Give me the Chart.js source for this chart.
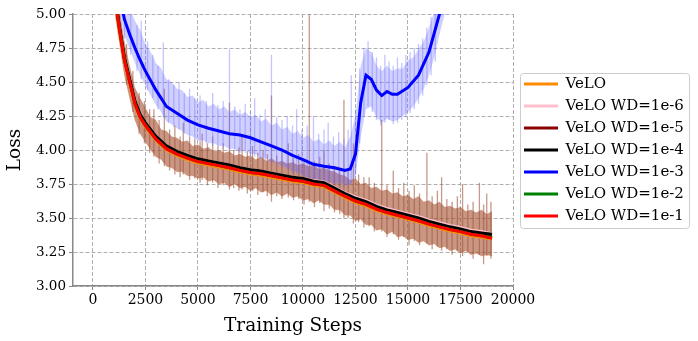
<!DOCTYPE html>
<html>
<head>
<meta charset="utf-8">
<script src="https://cdn.jsdelivr.net/npm/chart.js@4"></script>
<style>
  html, body { margin: 0; padding: 0; background: #fff; }
  #wrap { width: 698px; height: 341px; }
</style>
</head>
<body>
<div id="wrap"><canvas id="lossChart" width="698" height="341"></canvas></div>
<script>
// smoothed curves (training steps / loss)
const steps = [1000, 1250, 1500, 1750, 2000, 2250, 2500, 3000, 3500, 4000, 4500, 5000, 5500, 6000, 6500, 7000, 7500, 8000, 8500, 9000, 9500, 10000, 10500, 11000, 11500, 12000, 12500, 13000, 13500, 14000, 14500, 15000, 15500, 16000, 16500, 17000, 17500, 18000, 18500, 19000];
const veloLoss   = [5.17, 4.89, 4.65, 4.49, 4.33, 4.23, 4.17, 4.07, 4.00, 3.96, 3.93, 3.905, 3.89, 3.875, 3.86, 3.84, 3.825, 3.815, 3.80, 3.785, 3.77, 3.76, 3.74, 3.73, 3.69, 3.65, 3.615, 3.59, 3.555, 3.53, 3.51, 3.49, 3.47, 3.445, 3.425, 3.405, 3.39, 3.37, 3.36, 3.345];
const wd1e6Loss  = [5.20, 4.92, 4.68, 4.52, 4.36, 4.26, 4.20, 4.10, 4.03, 3.99, 3.96, 3.935, 3.92, 3.905, 3.89, 3.87, 3.855, 3.845, 3.83, 3.815, 3.80, 3.79, 3.775, 3.765, 3.725, 3.685, 3.655, 3.63, 3.595, 3.57, 3.55, 3.53, 3.51, 3.485, 3.465, 3.445, 3.43, 3.41, 3.40, 3.385];
const wd1e5Loss  = [5.19, 4.91, 4.67, 4.51, 4.35, 4.25, 4.19, 4.09, 4.02, 3.98, 3.95, 3.92, 3.905, 3.89, 3.875, 3.855, 3.84, 3.83, 3.815, 3.80, 3.785, 3.775, 3.755, 3.745, 3.705, 3.665, 3.63, 3.605, 3.57, 3.545, 3.525, 3.505, 3.485, 3.46, 3.44, 3.42, 3.405, 3.385, 3.375, 3.36];
const wd1e4Loss  = [5.20, 4.92, 4.68, 4.52, 4.36, 4.26, 4.20, 4.10, 4.03, 3.99, 3.96, 3.935, 3.92, 3.905, 3.89, 3.87, 3.855, 3.845, 3.83, 3.815, 3.80, 3.79, 3.77, 3.76, 3.72, 3.68, 3.645, 3.62, 3.585, 3.56, 3.54, 3.52, 3.50, 3.475, 3.455, 3.435, 3.42, 3.40, 3.39, 3.38];
const wd1e2Loss  = [5.18, 4.90, 4.66, 4.50, 4.34, 4.24, 4.18, 4.08, 4.01, 3.97, 3.94, 3.915, 3.90, 3.885, 3.87, 3.85, 3.835, 3.825, 3.81, 3.795, 3.78, 3.77, 3.75, 3.74, 3.70, 3.66, 3.625, 3.60, 3.565, 3.54, 3.52, 3.50, 3.48, 3.455, 3.435, 3.415, 3.40, 3.38, 3.37, 3.355];
const wd1e1Loss  = [5.18, 4.90, 4.66, 4.50, 4.34, 4.24, 4.18, 4.08, 4.01, 3.97, 3.94, 3.915, 3.90, 3.885, 3.87, 3.85, 3.835, 3.825, 3.81, 3.795, 3.78, 3.77, 3.75, 3.74, 3.70, 3.66, 3.625, 3.60, 3.565, 3.54, 3.52, 3.50, 3.48, 3.455, 3.435, 3.415, 3.40, 3.38, 3.37, 3.35];

const blueSteps = [1000, 1250, 1500, 1750, 2000, 2250, 2500, 3000, 3500, 4000, 4500, 5000, 5500, 6000, 6500, 7000, 7500, 8000, 8500, 9000, 9500, 10000, 10500, 11000, 11500, 12000, 12250, 12500, 12750, 13000, 13250, 13500, 13750, 14000, 14250, 14500, 15000, 15500, 16000, 16500, 17000];
const wd1e3Loss = [5.50, 5.15, 4.96, 4.85, 4.75, 4.66, 4.58, 4.44, 4.32, 4.27, 4.22, 4.185, 4.16, 4.14, 4.12, 4.11, 4.09, 4.06, 4.03, 4.00, 3.96, 3.93, 3.895, 3.88, 3.87, 3.85, 3.86, 3.97, 4.35, 4.55, 4.52, 4.44, 4.40, 4.43, 4.41, 4.41, 4.46, 4.55, 4.72, 5.00, 5.30];

// raw (unsmoothed) spread, dense part
const bandSteps = [1000, 1250, 1500, 1750, 2000, 2250, 2500, 2750, 3000, 3250, 3500, 3750, 4000, 4250, 4500, 4750, 5000, 5250, 5500, 5750, 6000, 6250, 6500, 6750, 7000, 7250, 7500, 7750, 8000, 8250, 8500, 8750, 9000, 9250, 9500, 9750, 10000, 10250, 10500, 10750, 11000, 11250, 11500, 11750, 12000, 12250, 12500, 12750, 13000, 13250, 13500, 13750, 14000, 14250, 14500, 14750, 15000, 15250, 15500, 15750, 16000, 16250, 16500, 16750, 17000, 17250, 17500, 17750, 18000, 18250, 18500, 18750, 19000];
const rawUpper = [5.30, 5.05, 4.80, 4.62, 4.46, 4.38, 4.31, 4.24, 4.22, 4.15, 4.14, 4.10, 4.09, 4.06, 4.07, 4.03, 4.04, 4.01, 4.02, 3.99, 4.00, 3.98, 3.99, 3.96, 3.97, 3.95, 3.96, 3.93, 3.95, 3.92, 3.94, 3.91, 3.92, 3.90, 3.91, 3.89, 3.90, 3.88, 3.89, 3.86, 3.87, 3.85, 3.84, 3.82, 3.81, 3.78, 3.79, 3.75, 3.76, 3.72, 3.73, 3.70, 3.71, 3.68, 3.69, 3.66, 3.67, 3.64, 3.66, 3.62, 3.63, 3.60, 3.62, 3.58, 3.59, 3.57, 3.58, 3.55, 3.56, 3.54, 3.56, 3.53, 3.55];
const rawLower = [5.05, 4.80, 4.55, 4.38, 4.22, 4.12, 4.06, 4.00, 3.95, 3.93, 3.88, 3.87, 3.84, 3.84, 3.81, 3.81, 3.79, 3.80, 3.77, 3.78, 3.75, 3.76, 3.73, 3.75, 3.72, 3.73, 3.70, 3.72, 3.69, 3.70, 3.67, 3.69, 3.66, 3.68, 3.65, 3.66, 3.63, 3.64, 3.61, 3.63, 3.60, 3.60, 3.56, 3.56, 3.52, 3.52, 3.48, 3.49, 3.45, 3.45, 3.41, 3.42, 3.38, 3.40, 3.36, 3.37, 3.34, 3.35, 3.32, 3.33, 3.30, 3.31, 3.28, 3.29, 3.26, 3.27, 3.24, 3.26, 3.23, 3.24, 3.22, 3.23, 3.22];

const blueBandSteps = [1250, 1500, 1750, 2000, 2250, 2500, 2750, 3000, 3250, 3500, 3750, 4000, 4250, 4500, 4750, 5000, 5250, 5500, 5750, 6000, 6250, 6500, 6750, 7000, 7250, 7500, 7750, 8000, 8250, 8500, 8750, 9000, 9250, 9500, 9750, 10000, 10250, 10500, 10750, 11000, 11250, 11500, 11750, 12000, 12250, 12500, 12750, 13000, 13250, 13500, 13750, 14000, 14250, 14500, 14750, 15000, 15250, 15500, 15750, 16000, 16250, 16500, 16750, 17000];
const blueUpper = [5.35, 5.15, 5.05, 4.95, 4.88, 4.78, 4.72, 4.64, 4.60, 4.52, 4.50, 4.45, 4.44, 4.39, 4.40, 4.35, 4.37, 4.32, 4.34, 4.30, 4.32, 4.28, 4.30, 4.26, 4.28, 4.24, 4.26, 4.21, 4.23, 4.18, 4.20, 4.15, 4.17, 4.12, 4.14, 4.09, 4.11, 4.06, 4.08, 4.04, 4.07, 4.03, 4.06, 4.02, 4.10, 4.25, 4.62, 4.75, 4.72, 4.62, 4.58, 4.62, 4.58, 4.60, 4.60, 4.66, 4.68, 4.74, 4.80, 4.90, 5.02, 5.15, 5.30, 5.45];
const blueLower = [5.02, 4.84, 4.74, 4.64, 4.55, 4.47, 4.40, 4.33, 4.28, 4.21, 4.19, 4.16, 4.14, 4.11, 4.10, 4.07, 4.07, 4.05, 4.05, 4.03, 4.03, 4.01, 4.01, 3.99, 4.00, 3.97, 3.97, 3.94, 3.94, 3.91, 3.91, 3.88, 3.87, 3.84, 3.84, 3.81, 3.80, 3.78, 3.78, 3.76, 3.77, 3.75, 3.76, 3.74, 3.75, 3.80, 4.10, 4.30, 4.32, 4.24, 4.20, 4.23, 4.21, 4.22, 4.25, 4.28, 4.32, 4.38, 4.45, 4.55, 4.68, 4.85, 5.00, 5.15];

// single noisy steps in the raw logs (low / high end of each excursion)
const spikeSteps = [1600, 1900, 2200, 2450, 2700, 2900, 3150, 3400, 3650, 3900, 4150, 4300, 4600, 4850, 5100, 5200, 5450, 5700, 5950, 6200, 6500, 6700, 6950, 7100, 7350, 7600, 7850, 8100, 8300, 8500, 8750, 9000, 9300, 9550, 9800, 10050, 10300, 10550, 10800, 11000, 11250, 11500, 11750, 11950, 12150, 12400, 12650, 12900, 13150, 13400, 13750, 14000, 14300, 14550, 14800, 15050, 15300, 15550, 15900, 16150, 16400, 16600, 16850, 17100, 17350, 17600, 17850, 18100, 18400, 18600, 18750, 18950];
const spikeHigh = [4.78, 4.58, 4.42, 4.36, 4.30, 4.30, 4.22, 4.45, 4.15, 4.18, 4.10, 4.20, 4.10, 4.08, 4.06, 4.12, 4.05, 4.10, 4.03, 4.05, 4.35, 4.00, 4.02, 4.10, 3.99, 4.03, 3.98, 4.00, 3.97, 4.40, 3.96, 3.99, 4.05, 3.94, 3.97, 3.93, 5.00, 3.92, 3.95, 4.00, 3.90, 3.88, 3.87, 4.37, 3.84, 4.05, 3.82, 3.80, 3.80, 3.76, 4.22, 3.74, 3.85, 3.72, 3.76, 3.70, 3.74, 3.68, 3.98, 3.66, 3.70, 3.80, 3.64, 3.62, 3.66, 3.75, 3.60, 3.62, 3.76, 3.60, 3.68, 3.62];
const spikeLow  = [4.48, 4.28, 4.12, 4.05, 3.98, 3.95, 3.90, 3.88, 3.85, 3.82, 3.80, 3.82, 3.78, 3.79, 3.76, 3.78, 3.74, 3.76, 3.72, 3.74, 3.71, 3.72, 3.70, 3.71, 3.68, 3.70, 3.67, 3.69, 3.66, 3.62, 3.66, 3.64, 3.65, 3.63, 3.64, 3.60, 3.62, 3.58, 3.61, 3.55, 3.57, 3.54, 3.53, 3.50, 3.50, 3.46, 3.47, 3.43, 3.44, 3.40, 3.40, 3.36, 3.38, 3.34, 3.36, 3.30, 3.33, 3.30, 3.31, 3.27, 3.29, 3.26, 3.27, 3.23, 3.26, 3.22, 3.25, 3.20, 3.23, 3.16, 3.22, 3.20];

const blueSpikeSteps = [1500, 1800, 2100, 2300, 2600, 2850, 3100, 3350, 3600, 3850, 4100, 4350, 4600, 4850, 5100, 5400, 5700, 5950, 6200, 6500, 6750, 7000, 7250, 7500, 7700, 7950, 8200, 8500, 8750, 9000, 9250, 9500, 9700, 9950, 10200, 10500, 10750, 11000, 11200, 11450, 11700, 11950, 12150, 12300, 12500, 12700, 12900, 13100, 13300, 13500, 13700, 13900, 14100, 14300, 14500, 14700, 14900, 15100, 15300, 15500, 15700, 15900, 16100, 16300];
const blueSpikeHigh = [5.20, 5.05, 4.92, 4.95, 4.80, 4.70, 4.62, 4.79, 4.52, 4.48, 4.50, 4.42, 4.45, 4.38, 4.40, 4.36, 4.42, 4.33, 4.36, 4.74, 4.32, 4.30, 4.34, 4.28, 4.38, 4.26, 4.30, 4.70, 4.24, 4.22, 4.25, 4.18, 4.30, 4.15, 4.18, 4.25, 4.12, 4.15, 4.20, 4.10, 4.13, 4.08, 4.15, 4.55, 4.30, 4.60, 4.75, 4.80, 4.72, 4.68, 4.62, 4.70, 4.65, 4.62, 4.68, 4.64, 4.70, 4.72, 4.75, 4.78, 4.82, 4.90, 4.98, 5.05];
const blueSpikeLow  = [4.82, 4.70, 4.58, 4.52, 4.44, 4.38, 4.30, 4.24, 4.20, 4.17, 4.15, 4.12, 4.10, 4.08, 4.06, 4.05, 4.03, 4.03, 4.01, 4.00, 3.99, 3.98, 3.98, 3.96, 3.95, 3.94, 3.92, 3.90, 3.89, 3.87, 3.86, 3.83, 3.82, 3.81, 3.79, 3.77, 3.76, 3.75, 3.76, 3.74, 3.74, 3.72, 3.73, 3.75, 3.82, 4.05, 4.25, 4.32, 4.28, 4.22, 4.18, 4.20, 4.22, 4.19, 4.20, 4.22, 4.24, 4.27, 4.30, 4.34, 4.40, 4.48, 4.55, 4.65];

const xTicks = [0, 2500, 5000, 7500, 10000, 12500, 15000, 17500, 20000];

const serif = "'DejaVu Serif', serif";

function pts(xs, ys) {
    return xs.map((x, i) => ({ x: x, y: ys[i] }));
}
// vertical segments, separated by gaps
function segPts(xs, lows, highs) {
    const out = [];
    xs.forEach((x, i) => {
        out.push({ x: x, y: lows[i] });
        out.push({ x: x, y: highs[i] });
        out.push({ x: x, y: null });
    });
    return out;
}

function mainLine(label, data, color, order) {
    return {
        label: label,
        data: data,
        borderColor: color,
        backgroundColor: color,
        borderWidth: 3,
        pointRadius: 0,
        fill: false,
        order: order,
    };
}
function extra(data, opts) {
    return Object.assign({
        label: '',
        hideInLegend: true,
        data: data,
        pointRadius: 0,
        borderWidth: 0,
        fill: false,
        spanGaps: false,
    }, opts);
}

const datasets = [
    mainLine('VeLO', pts(steps, veloLoss), '#ff8c00', 7),
    mainLine('VeLO WD=1e-6', pts(steps, wd1e6Loss), '#ffc0cb', 6),
    mainLine('VeLO WD=1e-5', pts(steps, wd1e5Loss), '#8b0000', 5),
    mainLine('VeLO WD=1e-4', pts(steps, wd1e4Loss), '#000000', 4),
    mainLine('VeLO WD=1e-3', pts(blueSteps, wd1e3Loss), '#0000ff', 3),
    mainLine('VeLO WD=1e-2', pts(steps, wd1e2Loss), '#008000', 2),
    mainLine('VeLO WD=1e-1', pts(steps, wd1e1Loss), '#ff0000', 1),
    // index 7: raw band lower, 8: raw band upper
    extra(pts(bandSteps, rawLower), { order: 30, borderWidth: 1, borderColor: 'rgba(240, 150, 90, 0.35)' }),
    extra(pts(bandSteps, rawUpper), { order: 29, fill: { target: 7 }, backgroundColor: 'rgba(163, 80, 47, 0.6)' }),
    extra(segPts(spikeSteps, spikeLow, spikeHigh), { order: 28, borderWidth: 1.3, borderColor: 'rgba(160, 85, 60, 0.6)' }),
    // index 10: blue band lower, 11: blue band upper
    extra(pts(blueBandSteps, blueLower), { order: 27 }),
    extra(pts(blueBandSteps, blueUpper), { order: 26, fill: { target: 10 }, backgroundColor: 'rgba(100, 100, 255, 0.3)' }),
    extra(segPts(blueSpikeSteps, blueSpikeLow, blueSpikeHigh), { order: 25, borderWidth: 1.3, borderColor: 'rgba(110, 110, 255, 0.4)' }),
];

// frame around the legend, like matplotlib's
const legendFrame = {
    id: 'legendFrame',
    afterLayout(chart) {
        // small gap between plot and legend
        chart.legend.left += 4;
        chart.legend.right += 4;
    },
    afterDraw(chart) {
        const boxes = chart.legend && chart.legend.legendHitBoxes;
        if (!boxes || !boxes.length) return;
        let l = Infinity, t = Infinity, r = -Infinity, b = -Infinity;
        boxes.forEach(h => {
            l = Math.min(l, h.left); t = Math.min(t, h.top);
            r = Math.max(r, h.left + h.width); b = Math.max(b, h.top + h.height);
        });
        const ctx = chart.ctx;
        ctx.save();
        ctx.strokeStyle = '#cccccc';
        ctx.lineWidth = 1;
        ctx.beginPath();
        ctx.roundRect(Math.round(l - 4) + 0.5, Math.round(t - 4) + 0.5, Math.round(r - l + 9), Math.round(b - t + 8), 3);
        ctx.stroke();
        ctx.restore();
    }
};

new Chart(document.getElementById('lossChart'), {
    type: 'line',
    data: { datasets: datasets },
    options: {
        responsive: false,
        animation: false,
        layout: { padding: { top: 14, right: 14, left: 0, bottom: 0 } },
        plugins: {
            tooltip: { enabled: false },
            legend: {
                position: 'right',
                fullSize: false,
                labels: {
                    boxWidth: 34,
                    boxHeight: 3,
                    padding: 7,
                    color: '#000',
                    font: { family: serif, size: 15 },
                    filter: (item, data) => !data.datasets[item.datasetIndex].hideInLegend,
                    sort: (a, b) => a.datasetIndex - b.datasetIndex,
                    generateLabels: (chart) => {
                        const items = Chart.defaults.plugins.legend.labels.generateLabels(chart);
                        items.forEach(it => { it.lineWidth = 0; });
                        return items;
                    },
                },
            },
        },
        scales: {
            x: {
                type: 'linear',
                min: -950,
                max: 20000,
                afterBuildTicks: (scale) => { scale.ticks = xTicks.map(v => ({ value: v })); },
                afterFit: (scale) => { scale.height = 55; },
                ticks: {
                    color: '#000',
                    font: { family: serif, size: 14 },
                    padding: 2,
                    maxRotation: 0,
                    autoSkip: false,
                    callback: (v) => String(v),
                },
                grid: {
                    color: '#b0b0b0',
                    tickBorderDash: [],
                    tickColor: '#888',
                    tickLength: 4,
                },
                border: { color: '#888', width: 1.5, dash: [4, 2] },
                title: {
                    display: true,
                    text: 'Training Steps',
                    color: '#000',
                    font: { family: serif, size: 18.5 },
                    padding: { top: 0 },
                },
            },
            y: {
                min: 3,
                max: 5,
                afterFit: (scale) => { scale.width = 73; },
                ticks: {
                    stepSize: 0.25,
                    color: '#000',
                    font: { family: serif, size: 13.5 },
                    padding: 3,
                    callback: (v) => v.toFixed(2),
                },
                grid: {
                    color: '#b0b0b0',
                    tickBorderDash: [],
                    tickColor: '#888',
                    tickLength: 4,
                },
                border: { color: '#888', width: 1.5, dash: [4, 2] },
                title: {
                    display: true,
                    text: 'Loss',
                    color: '#000',
                    font: { family: serif, size: 18.5 },
                    padding: { bottom: 2 },
                },
            },
        },
    },
    plugins: [legendFrame],
});
</script>
</body>
</html>
